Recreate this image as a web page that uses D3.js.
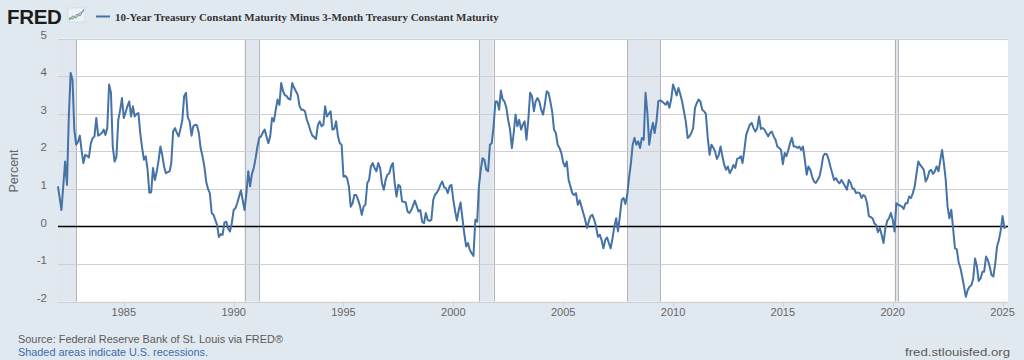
<!DOCTYPE html>
<html><head><meta charset="utf-8">
<script src="https://cdn.jsdelivr.net/npm/d3@7"></script>
<style>
html,body{margin:0;padding:0;background:#e1e9f0;}
svg{display:block;}
</style></head><body>
<svg id="chart" width="1024" height="360"></svg>
<script>
// ---- DATA (monthly, starting 1982-01) ----
const firstYear = 1982;
const spread1982_1989 = [
  1.07, 0.75, 0.44, 1.10, 1.73, 1.11, 2.90, 4.09, 3.90, 2.58, 2.18, 2.25,
  2.42, 2.00, 1.69, 1.91, 1.88, 1.84, 2.20, 2.35, 2.40, 2.89, 2.42, 2.45,
  2.49, 2.58, 2.44, 2.62, 3.78, 3.56, 2.13, 1.73, 1.87, 2.84, 3.10, 3.42,
  2.89, 3.05, 3.20, 3.33, 2.93, 3.20, 2.93, 3.00, 3.02, 2.49, 2.10, 1.78,
  1.87, 1.50, 0.90, 0.91, 1.56, 1.24, 1.45, 1.75, 2.13, 1.91, 1.60, 1.42,
  1.45, 1.47, 1.69, 2.53, 2.62, 2.50, 2.40, 2.60, 2.84, 3.47, 3.56, 2.90,
  2.80, 2.42, 2.67, 2.71, 2.70, 2.49, 2.09, 1.87, 1.60, 1.20, 1.00, 0.89,
  0.36, 0.31, 0.18, 0.04, -0.28, -0.20, -0.22, 0.11, 0.13, -0.05, -0.13, 0.09
];
const spread1990_1999 = [
  0.44, 0.49, 0.62, 0.80, 0.96, 0.70, 0.44, 0.89, 1.47, 1.07, 1.40, 1.56,
  1.82, 2.13, 2.36, 2.40, 2.50, 2.58, 2.40, 2.22, 2.40, 2.89, 2.80, 3.10,
  3.38, 3.24, 3.82, 3.60, 3.50, 3.47, 3.40, 3.38, 3.82, 3.70, 3.60, 3.51,
  3.20, 3.11, 3.11, 3.07, 2.85, 2.71, 2.55, 2.42, 2.38, 2.33, 2.70, 2.80,
  2.67, 2.71, 3.20, 2.93, 3.00, 3.07, 2.58, 2.60, 2.80, 2.40, 2.22, 2.18,
  1.33, 1.35, 1.29, 1.07, 0.53, 0.62, 0.84, 0.84, 0.71, 0.55, 0.31, 0.53,
  0.58, 1.16, 1.24, 1.60, 1.69, 1.56, 1.47, 1.69, 1.56, 1.16, 0.98, 1.24,
  1.38, 1.42, 1.60, 1.69, 1.16, 0.80, 1.11, 1.07, 0.67, 0.66, 0.64, 0.40,
  0.36, 0.44, 0.55, 0.69, 0.55, 0.40, 0.44, 0.13, 0.09, 0.36, 0.18, 0.15,
  0.18, 0.71, 0.84, 0.90, 0.98, 1.11, 1.20, 1.05, 1.02, 0.89, 1.07, 1.11
];
const spread2000_2009 = [
  0.71, 0.40, 0.16, 0.44, 0.64, 0.22, -0.18, -0.53, -0.44, -0.62, -0.71, -0.78,
  0.18, 0.13, 1.07, 1.51, 1.82, 1.78, 1.51, 1.47, 2.18, 2.22, 2.67, 3.33,
  3.33, 3.11, 3.62, 3.38, 3.33, 3.16, 2.84, 2.58, 2.09, 2.49, 2.98, 2.67,
  2.84, 2.58, 2.71, 2.80, 2.31, 2.84, 3.56, 3.47, 3.07, 3.33, 3.42, 3.33,
  3.11, 2.98, 3.24, 3.60, 3.56, 3.33, 3.07, 2.58, 2.49, 2.18, 2.09, 1.96,
  1.70, 1.60, 1.73, 1.24, 1.07, 0.89, 0.84, 0.89, 0.58, 0.70, 0.53, 0.36,
  0.18, -0.04, 0.13, 0.28, 0.31, 0.18, 0.00, -0.27, -0.22, -0.36, -0.58, -0.36,
  -0.29, -0.45, -0.58, -0.31, 0.00, 0.22, -0.13, 0.27, 0.71, 0.76, 0.60, 0.84,
  1.30, 1.69, 2.18, 2.36, 2.18, 2.27, 2.09, 2.36, 2.31, 3.56, 3.02, 2.18,
  2.53, 2.76, 2.49, 2.80, 3.33, 3.36, 3.33, 3.29, 3.24, 3.33, 3.16, 3.38
];
const spread2010_2019 = [
  3.78, 3.64, 3.49, 3.69, 3.53, 3.33, 3.07, 2.80, 2.36, 2.40, 2.49, 2.62,
  3.16, 3.29, 3.38, 3.33, 3.11, 3.07, 3.00, 2.36, 1.91, 2.18, 2.10, 2.00,
  1.80, 1.91, 2.13, 1.87, 1.64, 1.51, 1.60, 1.42, 1.51, 1.64, 1.56, 1.80,
  1.82, 1.87, 1.69, 2.04, 2.44, 2.58, 2.71, 2.76, 2.62, 2.53, 2.62, 2.93,
  2.60, 2.62, 2.58, 2.49, 2.40, 2.49, 2.53, 2.40, 2.31, 2.13, 2.09, 2.04,
  1.66, 1.96, 1.87, 2.04, 2.22, 2.36, 2.13, 2.13, 2.09, 2.13, 2.04, 2.13,
  1.78, 1.38, 1.60, 1.51, 1.33, 1.20, 1.16, 1.24, 1.33, 1.56, 1.87, 1.94,
  1.92, 1.78, 1.60, 1.42, 1.24, 1.29, 1.20, 1.15, 1.24, 1.16, 1.07, 0.98,
  1.24, 1.16, 1.02, 1.00, 0.89, 0.91, 0.89, 0.76, 0.84, 0.80, 0.62, 0.28,
  0.25, 0.22, 0.09, 0.04, -0.15, -0.04, -0.22, -0.44, -0.05, 0.15, 0.22, 0.36
];
const spread2020_2025 = [
  0.18, -0.13, 0.62, 0.58, 0.56, 0.53, 0.47, 0.62, 0.62, 0.80, 0.76, 0.89,
  1.07, 1.42, 1.73, 1.64, 1.58, 1.51, 1.20, 1.29, 1.47, 1.51, 1.40, 1.47,
  1.60, 1.47, 1.75, 2.04, 1.69, 1.24, 0.53, 0.22, 0.45, -0.04, -0.58, -0.60,
  -0.95, -1.11, -1.33, -1.60, -1.87, -1.69, -1.60, -1.56, -1.38, -0.85, -1.05, -1.45,
  -1.38, -1.20, -1.20, -0.80, -0.89, -1.07, -1.29, -1.33, -0.98, -0.53, -0.36, -0.10,
  0.28, -0.04, 0.00
];
const recessionStarts = ["1981-07-01", "1990-07-01", "2001-03-01", "2007-12-01", "2020-02-01"];
const recessionEnds   = ["1982-11-01", "1991-03-01", "2001-11-01", "2009-06-01", "2020-04-01"];
const yTickValues = [-2, -1, 0, 1, 2, 3, 4, 5];
const xTickYears = [1985, 1990, 1995, 2000, 2005, 2010, 2015, 2020, 2025];
const titleText = "10-Year Treasury Constant Maturity Minus 3-Month Treasury Constant Maturity";
const yAxisTitle = "Percent";
const sourceText = "Source: Federal Reserve Bank of St. Louis via FRED\u00AE";
const shadedText = "Shaded areas indicate U.S. recessions.";
const siteText = "fred.stlouisfed.org";

// ---- BUILD ----
const values = [].concat(spread1982_1989, spread1990_1999, spread2000_2009, spread2010_2019, spread2020_2025);
const series = values.map((v, i) => ({ date: new Date(Date.UTC(firstYear, i, 1)), value: v }));

const W = 1024, H = 360;
const L = 57.9, R = 1008, T = 38.7, B = 301.7;
const narrow = "'Liberation Sans Narrow','Arial Narrow','Liberation Sans',Arial,sans-serif";

const svg = d3.select("#chart");
svg.append("rect").attr("width", W).attr("height", H).attr("fill", "#e1e9f0");

const x = d3.scaleUtc()
  .domain([new Date(Date.UTC(1982, 0, 1)), new Date(Date.UTC(2025, 3, 1))])
  .range([L, R]);
const y = d3.scaleLinear().domain([-2, 5]).range([B, T]);

svg.append("defs").append("clipPath").attr("id", "plotClip")
  .append("rect").attr("x", L).attr("y", T).attr("width", R - L).attr("height", B - T);

svg.append("rect").attr("x", L).attr("y", T).attr("width", R - L).attr("height", B - T).attr("fill", "#ffffff");

// recessions
const rec = recessionStarts.map((s, i) => ({ s: new Date(s + "T00:00:00Z"), e: new Date(recessionEnds[i] + "T00:00:00Z") }));
const recG = svg.append("g").attr("clip-path", "url(#plotClip)");
recG.selectAll("rect").data(rec).join("rect")
  .attr("x", d => x(d.s)).attr("y", T)
  .attr("width", d => x(d.e) - x(d.s)).attr("height", B - T)
  .attr("fill", "#e1e7ee");
recG.selectAll("line.edge").data(rec.flatMap(d => [d.s, d.e])).join("line")
  .attr("class", "edge")
  .attr("x1", d => Math.round(x(d)) + 0.5).attr("x2", d => Math.round(x(d)) + 0.5)
  .attr("y1", T).attr("y2", B)
  .attr("stroke", "#b4b4b4").attr("stroke-width", 1);

// grid
svg.append("g").selectAll("line").data(yTickValues.filter(v => v !== 0)).join("line")
  .attr("x1", L).attr("x2", R)
  .attr("y1", d => Math.round(y(d)) + 0.5).attr("y2", d => Math.round(y(d)) + 0.5)
  .attr("stroke", "#cfcfcf").attr("stroke-width", 1);

// x ticks
const xTickDates = xTickYears.map(yr => new Date(Date.UTC(yr, 0, 1)));
svg.append("g").selectAll("line").data(xTickDates).join("line")
  .attr("x1", d => Math.round(x(d)) + 0.5).attr("x2", d => Math.round(x(d)) + 0.5)
  .attr("y1", B).attr("y2", B + 5)
  .attr("stroke", "#c8d2dc").attr("stroke-width", 1);

// zero line
svg.append("line").attr("x1", L).attr("x2", R)
  .attr("y1", y(0)).attr("y2", y(0))
  .attr("stroke", "#000").attr("stroke-width", 1.6);

// series line
const line = d3.line().x(d => x(d.date)).y(d => y(d.value));
svg.append("path").datum(series)
  .attr("d", line)
  .attr("fill", "none")
  .attr("stroke", "#4572a7")
  .attr("stroke-width", 2)
  .attr("stroke-linejoin", "round");

// y labels
svg.append("g").selectAll("text").data(yTickValues).join("text")
  .attr("x", 47).attr("y", d => y(d))
  .attr("text-anchor", "end")
  .attr("font-family", narrow).attr("font-size", 11.5)
  .attr("fill", "#666").text(d => d);

// x labels
svg.append("g").selectAll("text").data(xTickDates).join("text")
  .attr("x", d => x(d)).attr("y", 315.5)
  .attr("text-anchor", "middle")
  .attr("font-family", narrow).attr("font-size", 11)
  .attr("fill", "#666").text(d => d.getUTCFullYear());

// y axis title
svg.append("text")
  .attr("transform", "translate(18,171) rotate(-90)")
  .attr("text-anchor", "middle")
  .attr("font-family", narrow).attr("font-size", 12.5)
  .attr("fill", "#666").text(yAxisTitle);

// logo
svg.append("text").attr("x", 7).attr("y", 23.5)
  .attr("font-family", "'Liberation Sans',Arial,sans-serif").attr("font-weight", 900)
  .attr("font-size", 20.5).attr("fill", "#1c1c1c").attr("letter-spacing", -0.3)
  .text("FRED");
const icon = svg.append("g").attr("transform", "translate(68,8)");
icon.append("rect").attr("width", 17).attr("height", 14).attr("fill", "#eef2f6").attr("stroke", "#c9d3dd").attr("stroke-width", 0.6);
icon.append("polyline").attr("points", "1,12 5,8 8,10 12,5 16,3").attr("fill", "none").attr("stroke", "#7fb463").attr("stroke-width", 1.2);
icon.append("polyline").attr("points", "1,10 5,11 9,6 12,8 16,1").attr("fill", "none").attr("stroke", "#6d8fc4").attr("stroke-width", 1);

// legend line + title
svg.append("line").attr("x1", 96).attr("x2", 110).attr("y1", 16.5).attr("y2", 16.5)
  .attr("stroke", "#4572a7").attr("stroke-width", 2);
const title = svg.append("text").attr("x", 115).attr("y", 20.5)
  .attr("font-family", "'Liberation Serif','Times New Roman',serif").attr("font-weight", "bold")
  .attr("font-size", 12).attr("fill", "#333").text(titleText);
const tw = title.node().getComputedTextLength();
title.attr("font-size", 12 * 384 / tw);

// footer
svg.append("text").attr("x", 18).attr("y", 343)
  .attr("font-family", narrow).attr("font-size", 11.5).attr("fill", "#595959")
  .attr("textLength", 265).attr("lengthAdjust", "spacingAndGlyphs").text(sourceText);
svg.append("text").attr("x", 18).attr("y", 356)
  .attr("font-family", narrow).attr("font-size", 11.5).attr("fill", "#3b6bae")
  .attr("textLength", 190).attr("lengthAdjust", "spacingAndGlyphs").text(shadedText);
svg.append("text").attr("x", 1010).attr("y", 356).attr("text-anchor", "end")
  .attr("font-family", narrow).attr("font-size", 11.5).attr("fill", "#595959")
  .attr("textLength", 105).attr("lengthAdjust", "spacingAndGlyphs").text(siteText);
</script>
</body></html>
